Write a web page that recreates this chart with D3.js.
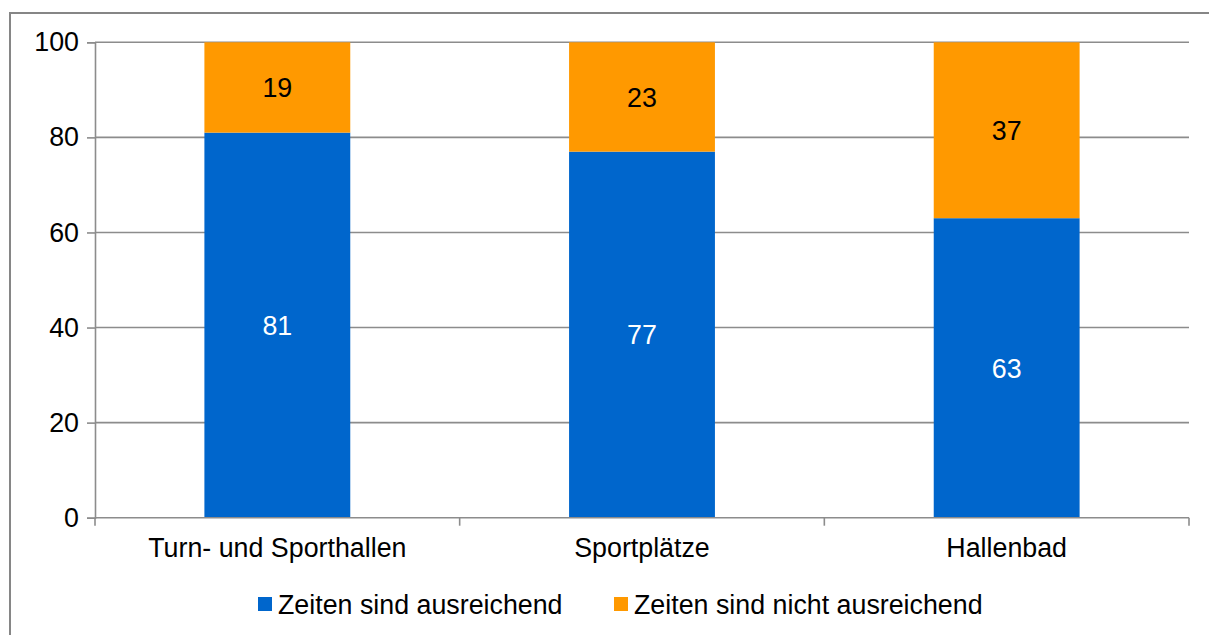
<!DOCTYPE html>
<html>
<head>
  <meta charset="utf-8">
  <title>Zeiten</title>
  <script src="https://cdn.jsdelivr.net/npm/d3@7"></script>
  <style>
    body { margin: 0; background: #fff; }
    text { font-family: Arial, "Liberation Sans", sans-serif; }
  </style>
</head>
<body>
<script>
  // Daten
  const categories = ["Turn- und Sporthallen", "Sportplätze", "Hallenbad"];
  const ausreichend = [81, 77, 63];
  const nichtAusreichend = [19, 23, 37];
  const seriesNames = ["Zeiten sind ausreichend", "Zeiten sind nicht ausreichend"];
  const yTicks = [0, 20, 40, 60, 80, 100];

  const colors = ["#0066cc", "#ff9900"];
  const W = 1209, H = 635;
  const plot = { left: 95, right: 1189, top: 42.3, bottom: 517.7 };
  const fs = 26.8;

  const svg = d3.select("body").append("svg")
    .attr("width", W)
    .attr("height", H);

  // Rahmen
  svg.append("rect")
    .attr("x", 10).attr("y", 13)
    .attr("width", W + 20).attr("height", H + 20)
    .attr("fill", "none")
    .attr("stroke", "#868686")
    .attr("stroke-width", 2);

  const x = d3.scaleBand()
    .domain(categories)
    .range([plot.left, plot.right])
    .paddingInner(0.6)
    .paddingOuter(0.3);

  const y = d3.scaleLinear()
    .domain([0, 100])
    .range([plot.bottom, plot.top]);

  // Gitterlinien
  svg.append("g")
    .selectAll("line")
    .data(yTicks.filter(d => d > 0))
    .join("line")
    .attr("x1", plot.left).attr("x2", plot.right)
    .attr("y1", d => y(d)).attr("y2", d => y(d))
    .attr("stroke", "#8c8c8c")
    .attr("stroke-width", 1.6);

  // Balken
  const stackData = categories.map((c, i) => ({ cat: c, a: ausreichend[i], b: nichtAusreichend[i] }));
  const stack = d3.stack().keys(["a", "b"])(stackData);

  const layer = svg.append("g").selectAll("g")
    .data(stack)
    .join("g")
    .attr("fill", (d, i) => colors[i]);

  layer.selectAll("rect")
    .data(d => d)
    .join("rect")
    .attr("x", d => x(d.data.cat))
    .attr("width", x.bandwidth())
    .attr("y", d => y(d[1]))
    .attr("height", d => y(d[0]) - y(d[1]));

  layer.selectAll("text")
    .data(d => d)
    .join("text")
    .attr("x", d => x(d.data.cat) + x.bandwidth() / 2)
    .attr("y", d => (y(d[0]) + y(d[1])) / 2)
    .attr("dy", "0.36em")
    .attr("text-anchor", "middle")
    .attr("font-size", fs)
    .attr("fill", function () {
      return d3.select(this.parentNode).datum().key === "a" ? "#ffffff" : "#000000";
    })
    .text(d => d[1] - d[0]);

  // Y-Achse
  const yAxis = svg.append("g")
    .attr("transform", "translate(" + plot.left + ",0)")
    .call(d3.axisLeft(y).tickValues(yTicks).tickSize(8).tickPadding(8));
  yAxis.select(".domain").attr("stroke", "#8c8c8c").attr("stroke-width", 1.6);
  yAxis.selectAll(".tick line").attr("stroke", "#8c8c8c").attr("stroke-width", 1.6);
  yAxis.selectAll(".tick text").attr("font-size", fs).attr("fill", "#000")
    .attr("font-family", "Arial, 'Liberation Sans', sans-serif");

  // X-Achse
  const xAxis = svg.append("g")
    .attr("transform", "translate(0," + plot.bottom + ")")
    .call(d3.axisBottom(x).tickSize(0).tickPadding(20));
  xAxis.select(".domain").remove();
  xAxis.append("line")
    .attr("x1", plot.left).attr("x2", plot.right)
    .attr("stroke", "#8c8c8c").attr("stroke-width", 1.6);
  const bounds = [plot.left].concat(categories.map(c => x(c) + x.bandwidth() / 2 + x.step() / 2));
  xAxis.selectAll("line.sep")
    .data(bounds)
    .join("line")
    .attr("class", "sep")
    .attr("x1", d => d).attr("x2", d => d)
    .attr("y1", 0).attr("y2", 8)
    .attr("stroke", "#8c8c8c").attr("stroke-width", 1.6);
  xAxis.selectAll(".tick text").attr("font-size", fs).attr("fill", "#000")
    .attr("font-family", "Arial, 'Liberation Sans', sans-serif");

  // Legende
  const legendX = [258, 614];
  const legend = svg.append("g").selectAll("g")
    .data(seriesNames)
    .join("g")
    .attr("transform", (d, i) => "translate(" + legendX[i] + ",604)");
  legend.append("rect")
    .attr("x", 0).attr("y", -7)
    .attr("width", 14).attr("height", 14)
    .attr("fill", (d, i) => colors[i]);
  legend.append("text")
    .attr("x", 20)
    .attr("dy", "0.36em")
    .attr("font-size", fs)
    .text(d => d);
</script>
</body>
</html>
